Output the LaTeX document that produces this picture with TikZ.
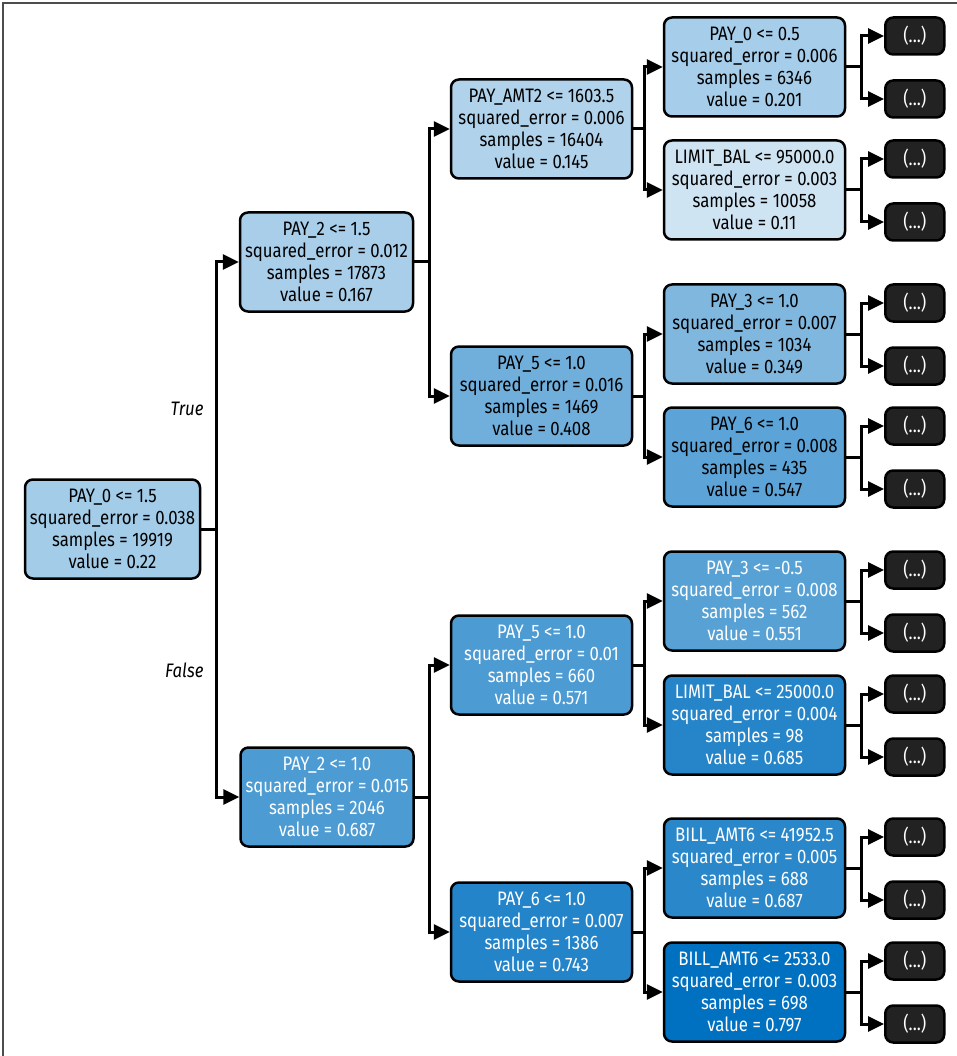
\documentclass[tikz,border=0pt]{standalone}
\usepackage{fontspec}
\setmainfont{Fira Sans}[FakeStretch=0.86]
\usetikzlibrary{arrows.meta,calc,positioning}
\definecolor{azul}{RGB}{0,112,192}
\definecolor{grishoja}{RGB}{34,34,34}
\tikzset{
  nodo/.style={draw=black,line width=2.5pt,rounded corners=8pt,fill=azul!#1!white,
    align=center,minimum height=99pt,inner sep=2pt,font=\fontsize{19.5}{22}\selectfont},
  claro/.style={text=black},
  oscuro/.style={text=white},
  hoja/.style={draw=black,line width=2.5pt,rounded corners=8pt,fill=grishoja,text=white,
    minimum width=59pt,minimum height=37pt,inner sep=1pt,font=\fontsize{19.5}{22}\selectfont},
  rama/.style={line width=3pt,-{Triangle[length=16pt,width=15pt]}},
  etiq/.style={font=\fontsize{19.5}{22}\selectfont\itshape},
  marco/.style={black!70,line width=1.2pt}
}

\begin{document}
\begin{tikzpicture}[x=1pt,y=-1pt]
\useasboundingbox (0,0) rectangle (957,1056);
\draw[marco] (3,1056) -- (3,3) -- (957,3);
% raiz
\node[nodo=36,claro,minimum width=175pt] (raiz) at (112.5,529) {PAY\_0 <= 1.5\\squared\_error = 0.038\\samples = 19919\\value = 0.22};
% nivel 1
\node[nodo=34,claro,minimum width=173pt] (a) at (326.5,262) {PAY\_2 <= 1.5\\squared\_error = 0.012\\samples = 17873\\value = 0.167};
\node[nodo=70,oscuro,minimum width=173pt] (b) at (327,797) {PAY\_2 <= 1.0\\squared\_error = 0.015\\samples = 2046\\value = 0.687};
% nivel 2
\node[nodo=31,claro,minimum width=181pt] (aa) at (541.5,129) {PAY\_AMT2 <= 1603.5\\squared\_error = 0.006\\samples = 16404\\value = 0.145};
\node[nodo=56,claro,minimum width=181pt] (ab) at (541.5,396) {PAY\_5 <= 1.0\\squared\_error = 0.016\\samples = 1469\\value = 0.408};
\node[nodo=70,oscuro,minimum width=181pt] (ba) at (541.5,665) {PAY\_5 <= 1.0\\squared\_error = 0.01\\samples = 660\\value = 0.571};
\node[nodo=86,oscuro,minimum width=181pt] (bb) at (541.5,932) {PAY\_6 <= 1.0\\squared\_error = 0.007\\samples = 1386\\value = 0.743};
% nivel 3
\node[nodo=35,claro,minimum width=181pt] (aaa) at (754.5,67) {PAY\_0 <= 0.5\\squared\_error = 0.006\\samples = 6346\\value = 0.201};
\node[nodo=19,claro,minimum width=181pt] (aab) at (754.5,190) {LIMIT\_BAL <= 95000.0\\squared\_error = 0.003\\samples = 10058\\value = 0.11};
\node[nodo=50,claro,minimum width=181pt] (aba) at (754.5,334) {PAY\_3 <= 1.0\\squared\_error = 0.007\\samples = 1034\\value = 0.349};
\node[nodo=64,claro,minimum width=181pt] (abb) at (754.5,457) {PAY\_6 <= 1.0\\squared\_error = 0.008\\samples = 435\\value = 0.547};
\node[nodo=66,oscuro,minimum width=181pt] (baa) at (754.5,601) {PAY\_3 <= -0.5\\squared\_error = 0.008\\samples = 562\\value = 0.551};
\node[nodo=85,oscuro,minimum width=181pt] (bab) at (754.5,725) {LIMIT\_BAL <= 25000.0\\squared\_error = 0.004\\samples = 98\\value = 0.685};
\node[nodo=84,oscuro,minimum width=181pt] (bba) at (754.5,868) {BILL\_AMT6 <= 41952.5\\squared\_error = 0.005\\samples = 688\\value = 0.687};
\node[nodo=100,oscuro,minimum width=181pt] (bbb) at (754.5,992) {BILL\_AMT6 <= 2533.0\\squared\_error = 0.003\\samples = 698\\value = 0.797};
% ramas entre nodos
\foreach \p/\h/\d in {raiz/a/15,raiz/b/15,a/aa/15,a/ab/15,b/ba/15,b/bb/15,
  aa/aaa/11,aa/aab/11,ab/aba/11,ab/abb/11,ba/baa/11,ba/bab/11,bb/bba/11,bb/bbb/11}
  \draw[rama] (\p.east) -- ++(\d,0) |- (\h.west);
% hojas cortadas
\foreach \n in {aaa,aab,aba,abb,baa,bab,bba,bbb}{
  \node[hoja] (\n-1) at ($(\n.east)+(68.5,-31)$) {(...)};
  \node[hoja] (\n-2) at ($(\n.east)+(68.5,32)$) {(...)};
  \draw[rama] (\n.east) -- ++(15,0) |- (\n-1.west);
  \draw[rama] (\n.east) -- ++(15,0) |- (\n-2.west);
}
\node[etiq,anchor=east] (verdad) at (207,409) {True};
\node[etiq,anchor=east] (falso) at (207,670) {False};
\end{tikzpicture}
\end{document}
